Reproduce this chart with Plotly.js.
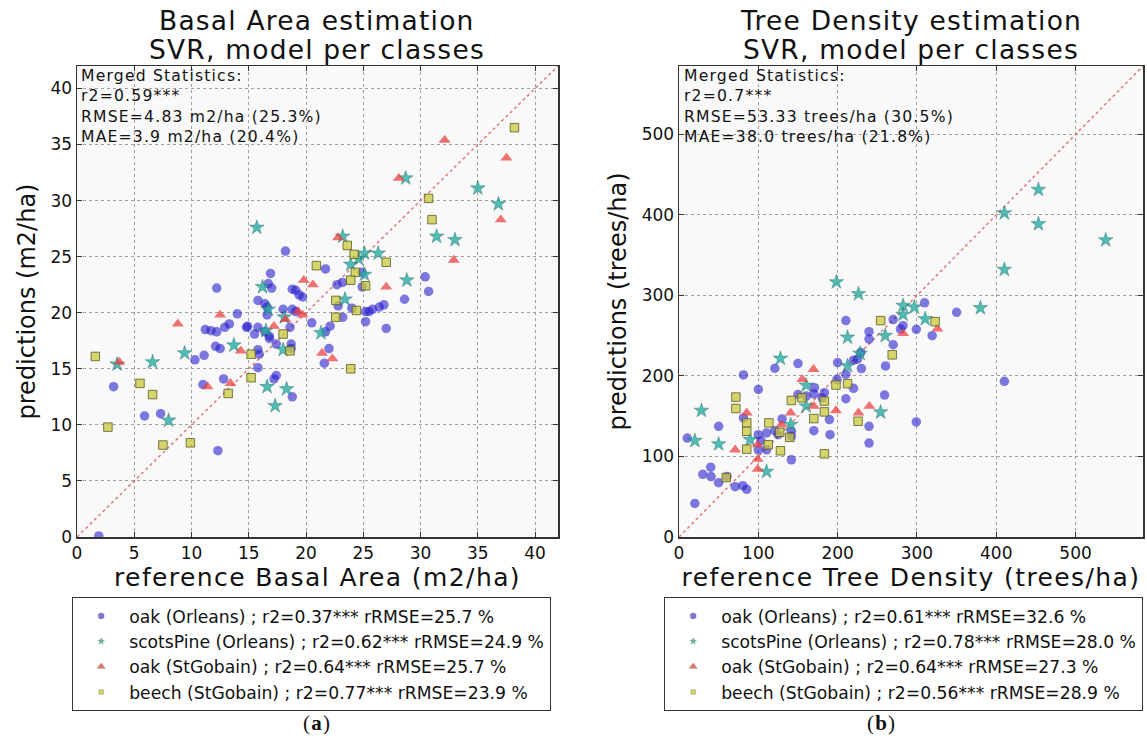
<!DOCTYPE html>
<html>
<head>
<meta charset="utf-8">
<script src="https://cdn.plot.ly/plotly-3.0.1.min.js"></script>
<style>
html,body{margin:0;padding:0;background:#fff;}
#chart{width:1147px;height:744px;}
text.annotation-text{letter-spacing:1.2px;}
text.xtitle, text.x2title{letter-spacing:1.4px;}
</style>
</head>
<body>
<div id="chart"></div>
<script>
// ---------- (a) Basal Area (m2/ha) ----------
const baOakOrleansX = [1.9,3.2,5.9,7.3,12.3,10.3,11.1,11.0,12.8,11.2,11.7,12.2,12.9,13.3,12.1,12.5,12.2,14.0,14.8,14.9,15.8,15.5,16.4,16.8,16.8,15.8,16.4,16.6,16.6,15.8,15.9,15.8,17.4,17.2,18.8,17.4,18.7,18.7,18.6,18.0,18.8,19.1,18.8,19.1,19.4,19.7,16.9,16.7,17.0,18.2,20.5,21.7,22.7,23.2,22.8,23.2,24.0,22.1,21.7,22.0,21.6,24.9,24.9,25.2,25.5,25.8,26.4,26.8,25.2,27.0,28.6,30.4,30.7];
const baOakOrleansY = [0.1,13.4,10.8,11.0,7.7,15.8,16.2,13.6,14.1,18.5,18.4,18.3,18.7,19.0,17.0,16.8,22.2,19.9,18.7,18.8,18.7,18.1,18.3,17.9,17.7,21.1,20.8,20.5,19.8,16.7,16.3,15.1,14.4,14.1,12.5,17.2,17.2,16.8,18.7,20.3,20.3,20.1,22.1,22.0,21.6,21.4,23.5,22.6,22.2,25.5,19.1,23.9,22.5,22.7,20.6,19.6,20.4,18.8,18.3,16.8,15.5,23.6,22.3,20.1,20.1,20.3,20.5,20.7,19.2,18.6,21.2,23.2,21.9];
const baPineX = [3.5,6.6,8.0,9.4,13.7,15.7,16.2,16.7,16.5,16.6,17.3,18.3,18.0,18.1,21.3,23.4,23.2,23.9,24.6,25.1,26.3,25.1,28.7,28.8,31.4,33.0,35.0,36.8];
const baPineY = [15.4,15.6,10.4,16.4,17.1,27.6,22.3,20.3,18.4,13.4,11.7,13.2,16.7,19.6,18.2,21.2,26.8,24.3,24.8,25.3,25.3,23.4,32.0,22.9,26.8,26.5,31.1,29.7];
const baOakGobainX = [3.7,8.8,11.4,12.5,13.4,14.3,17.2,18.2,19.3,19.7,19.8,20.6,21.4,22.3,22.8,27.0,28.1,32.1,32.9,37.0,37.5];
const baOakGobainY = [15.6,19.0,13.4,19.8,13.7,16.6,18.8,19.4,20.1,19.8,22.9,22.5,16.4,15.9,26.7,22.3,32.0,35.4,24.7,28.3,33.8];
const baBeechX = [1.6,2.7,5.5,6.6,7.5,9.9,13.2,15.2,15.2,18.0,18.6,20.9,22.6,22.6,23.6,24.2,24.3,23.9,25.2,24.4,23.9,27.0,30.7,31.0,38.2];
const baBeechY = [16.1,9.8,13.7,12.7,8.2,8.4,12.8,14.2,16.3,18.1,16.6,24.2,21.1,19.6,26.0,25.2,23.6,22.9,22.4,20.2,15.0,24.5,30.2,28.3,36.5];
const baLegend = [
  "oak (Orleans) ; r2=0.37*** rRMSE=25.7 %",
  "scotsPine (Orleans) ; r2=0.62*** rRMSE=24.9 %",
  "oak (StGobain) ; r2=0.64*** rRMSE=25.7 %",
  "beech (StGobain) ; r2=0.77*** rRMSE=23.9 %"
];
const baStats = ["Merged Statistics:", "r2=0.59***", "RMSE=4.83 m2/ha (25.3%)", "MAE=3.9 m2/ha (20.4%)"];
const baRange = [0, 42];
const baTicks = [0,5,10,15,20,25,30,35,40];

// ---------- (b) Tree Density (trees/ha) ----------
const tdOakOrleansX = [20,10.4,30,40,40.4,50,60.4,70.8,80.4,85.4,50,81.3,81.3,100,100,103.3,100,110.4,110.4,120.8,125,130,120.8,141.7,141.7,141.7,150,150,160.4,170,170.8,180.4,183.3,170,189.6,190.4,199.2,200,210.4,210.4,210.4,220,220,225,229.2,230,239.6,239.6,239.6,239.6,259.2,260.4,270,270,279.2,282.5,299.2,299.2,309.6,319.2,350,410.2];
const tdOakOrleansY = [41.7,122.9,77.9,86.7,75,67.5,75,62.5,63.8,59.2,137.5,147.9,201.3,183.3,127.1,119.6,108.3,108.3,129.2,132.1,127.1,146.7,209.6,131.3,125,95.8,215.4,177,175,177.9,185.4,172.9,179.2,132.1,145.8,127.1,195.8,216.7,202.1,171.7,268.8,184.6,219.6,220.8,229.2,209.2,255,245.8,137.5,116.7,176.3,212.5,270,238.8,258.3,262.5,257.9,142.9,290.8,250,279,193.4];
const tdPineX = [20,28.3,50,89.6,110.4,127.9,140.8,160.4,160.4,198.4,212.5,212.5,226.3,228.3,254.2,260,282.5,282.5,296.7,310.4,380,410.2,410.2,453.2,453.2,538];
const tdPineY = [119.6,157.1,115.4,120.8,81.3,221.7,139.6,188.3,162.5,316.7,247.9,212.5,302,227.9,155,250,287.5,276.3,285.4,270.8,284.5,402.3,332.1,431.5,388.8,368.8];
const tdOakGobainX = [70.8,85.4,99.2,99.2,99.2,129.2,140.8,155.4,169.6,170,197.9,226.3,240,282.5,325.8];
const tdOakGobainY = [108.3,154.2,114.6,96.7,84.2,139.6,154.2,195.8,208.3,162.5,157.1,154.2,162.5,252.9,258.5];
const tdBeechX = [59.6,71.7,71.7,85.4,85.4,85.4,112.5,113.3,127.9,127,139.6,141.7,155,170,183.3,183.3,183.3,197.9,212.5,225.8,254.2,268.8,322.9];
const tdBeechY = [73.8,173.8,159.6,141.7,131.3,109.2,114.6,141.7,107.1,130,123.8,169.6,172.9,147.1,168.8,155.4,103.3,188.8,190.4,143.8,268.8,226.3,267.5];
const tdLegend = [
  "oak (Orleans) ; r2=0.61*** rRMSE=32.6 %",
  "scotsPine (Orleans) ; r2=0.78*** rRMSE=28.0 %",
  "oak (StGobain) ; r2=0.64*** rRMSE=27.3 %",
  "beech (StGobain) ; r2=0.56*** rRMSE=28.9 %"
];
const tdStats = ["Merged Statistics:", "r2=0.7***", "RMSE=53.33 trees/ha (30.5%)", "MAE=38.0 trees/ha (21.8%)"];
const tdRange = [0, 585];
const tdTicks = [0,100,200,300,400,500];

// ---------- styling ----------
const FONT = "DejaVu Sans, Liberation Sans, sans-serif";
const styles = [
  {symbol:'circle', size:9.5, color:'rgba(40,30,205,0.6)', line:{width:0}},
  {symbol:'star', size:11, color:'rgba(35,170,160,0.78)', line:{width:0.6, color:'rgba(20,90,90,0.6)'}},
  {symbol:'triangle-up', size:10.5, color:'rgba(235,60,60,0.72)', line:{width:0}},
  {symbol:'square', size:8.5, color:'rgba(200,200,60,0.75)', line:{width:1, color:'rgba(90,90,40,0.8)'}}
];
const legendSizes = [6, 5, 7, 4.5];

function series(xs, ys, names, xa, ya, leg) {
  const out = [];
  xs.forEach((x, i) => {
    out.push({type:'scatter', mode:'markers', x:x, y:ys[i], name:names[i],
      xaxis:xa, yaxis:ya, showlegend:false, marker:styles[i], hoverinfo:'x+y'});
  });
  // legend entries (small symbols, as in the original legend)
  names.forEach((n, i) => {
    out.push({type:'scatter', mode:'markers', x:[null], y:[null], name:n,
      xaxis:xa, yaxis:ya, legend:leg, legendgroup:leg + i, showlegend:true,
      marker:Object.assign({}, styles[i], {size:legendSizes[i], line:{width:0.5, color:'rgba(90,90,40,0.6)'}})});
  });
  return out;
}

const traces = [
  {type:'scatter', mode:'lines', x:baRange, y:baRange, xaxis:'x', yaxis:'y', showlegend:false,
   line:{color:'rgba(215,100,100,0.85)', width:1.5, dash:'dot'}, hoverinfo:'skip'},
  {type:'scatter', mode:'lines', x:tdRange, y:tdRange, xaxis:'x2', yaxis:'y2', showlegend:false,
   line:{color:'rgba(215,100,100,0.85)', width:1.5, dash:'dot'}, hoverinfo:'skip'},
  ...series([baOakOrleansX, baPineX, baOakGobainX, baBeechX], [baOakOrleansY, baPineY, baOakGobainY, baBeechY], baLegend, 'x', 'y', 'legend'),
  ...series([tdOakOrleansX, tdPineX, tdOakGobainX, tdBeechX], [tdOakOrleansY, tdPineY, tdOakGobainY, tdBeechY], tdLegend, 'x2', 'y2', 'legend2')
];

function axis(domain, range, ticks, title, anchor, standoff, tsize) {
  return {
    domain:domain, range:range, tickvals:ticks, anchor:anchor,
    showgrid:true, gridcolor:'#a0a0a0', griddash:'dot', gridwidth:1,
    zeroline:false, showline:true, linecolor:'#333', linewidth:1.5, mirror:'ticks',
    ticks:'inside', ticklen:5, tickcolor:'#333',
    tickfont:{family:FONT, size:17, color:'#111'},
    title:{text:title, font:{family:FONT, size:tsize, color:'#111'}, standoff:standoff},
    fixedrange:true
  };
}

const yDom = [1 - 537/744, 1 - 66/744];
const legendBase = {
  bordercolor:'#333', borderwidth:1.2, bgcolor:'#fff',
  font:{family:FONT, size:17.2, color:'#111'},
  xanchor:'left', yanchor:'top', y:1 - 597/744,
  traceorder:'grouped', tracegroupgap:0, itemwidth:46, itemsizing:'trace'
};

function statsAnn(lines, xpx) {
  return {xref:'paper', yref:'paper', x:xpx/1147, y:1 - 65/744, xanchor:'left', yanchor:'top',
          text:lines.join('<br>'), align:'left', showarrow:false,
          font:{family:FONT, size:15.6, color:'#111'}};
}
function titleAnn(text, xc, ypx) {
  return {xref:'paper', yref:'paper', x:xc/1147, y:1 - ypx/744, xanchor:'center', yanchor:'middle',
          text:text, showarrow:false, font:{family:FONT, size:26.5, color:'#111'}};
}
function tagAnn(letter, xc) {
  return {xref:'paper', yref:'paper', x:xc/1147, y:1 - 723/744, xanchor:'center', yanchor:'middle',
          text:'(<b>' + letter + '</b>)', showarrow:false,
          font:{family:'Liberation Serif, serif', size:21, color:'#111'}};
}

const layout = {
  width:1147, height:744,
  margin:{l:0, r:0, t:0, b:0},
  paper_bgcolor:'#fff', plot_bgcolor:'#f9f9f9',
  showlegend:true,
  xaxis: axis([77/1147, 558/1147], baRange, baTicks, 'reference Basal Area (m2/ha)', 'y', 6, 25),
  yaxis: axis(yDom, baRange, baTicks, 'predictions (m2/ha)', 'x', 8, 24),
  xaxis2: axis([679/1147, 1143/1147], tdRange, tdTicks, 'reference Tree Density (trees/ha)', 'y2', 6, 25),
  yaxis2: axis(yDom, tdRange, tdTicks, 'predictions (trees/ha)', 'x2', 8, 24),
  legend: Object.assign({}, legendBase, {x:72/1147}),
  legend2: Object.assign({}, legendBase, {x:664/1147}),
  annotations:[
    statsAnn(baStats, 79), statsAnn(tdStats, 682),
    titleAnn('Basal Area estimation', 317, 21), titleAnn('SVR, model per classes', 317, 49),
    titleAnn('Tree Density estimation', 911, 21), titleAnn('SVR, model per classes', 911, 49),
    tagAnn('a', 317), tagAnn('b', 881)
  ]
};

Plotly.newPlot('chart', traces, layout, {displayModeBar:false, staticPlot:true});
</script>
</body>
</html>
